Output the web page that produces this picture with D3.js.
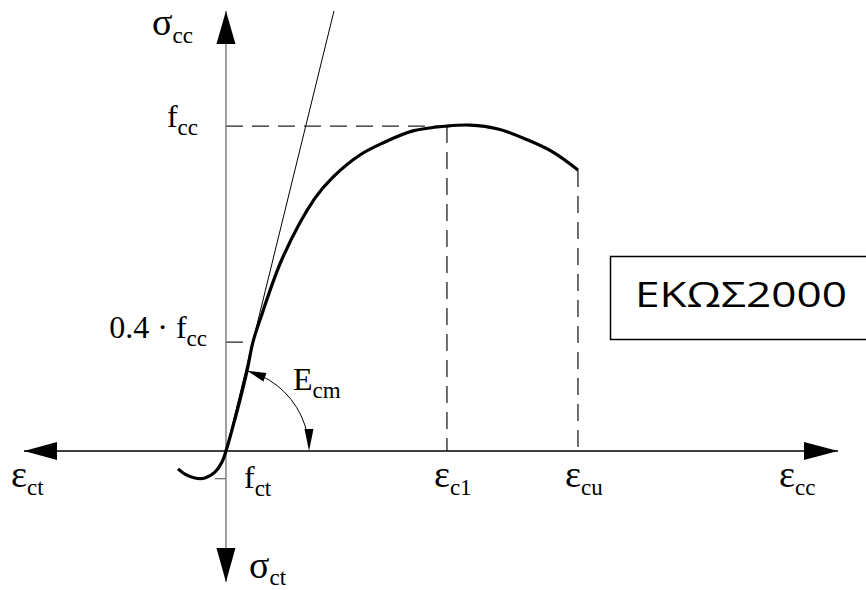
<!DOCTYPE html>
<html>
<head>
<meta charset="utf-8">
<script src="https://cdn.jsdelivr.net/npm/d3@7"></script>
<style>
  body { margin: 0; background: #fff; }
  svg { display: block; }
  .lbl { font-family: "Liberation Serif", "Times New Roman", serif; fill: #000; }
</style>
</head>
<body>
<div id="chart"></div>
<script>
// strain (per mille) and stress (fraction of fcc)
var strain = [-0.436, -0.373, -0.282, -0.191, -0.100, -0.036, 0, 0.055, 0.127, 0.191, 0.245, 0.309, 0.518, 0.809, 0.973, 1.218, 1.427, 1.700, 2.009, 2.218, 2.473, 2.745, 2.973, 3.200];
var stress = [-0.055, -0.071, -0.083, -0.083, -0.065, -0.034, 0, 0.065, 0.157, 0.246, 0.335, 0.403, 0.597, 0.778, 0.843, 0.911, 0.948, 0.985, 1.000, 1.003, 0.991, 0.957, 0.920, 0.865];

var axisX = [-1.836, 5.564];      // horizontal axis extent
var axisY = [-0.403, 1.354];      // vertical axis extent
var tangentEnd = [0.982, 1.354];  // secant Ecm line end

var stressTicks = [1.0, 0.335, -0.085];
var stressLabels = [["f", "cc"], ["0.4 \u00b7 f", "cc"], ["f", "ct"]];
var strainTicks = [2.009, 3.200];
var strainLabels = [["\u03b5", "c1"], ["\u03b5", "cu"]];
var ecmEnd = 0.755;               // where the Ecm arc meets the axis
var ecmIndex = 9;                 // curve point where the arc starts
var boxText = "\u0395\u039a\u03a9\u03a32000";

var w_width = 866, w_height = 590;

var svg = d3.select("#chart").append("svg")
    .attr("width", w_width)
    .attr("height", w_height);

var x = d3.scaleLinear().domain(axisX).range([24, 838]),
    y = d3.scaleLinear().domain(axisY).range([582, 11]);

// dashed reference lines
var dash = svg.append("g")
    .attr("stroke", "#222")
    .attr("stroke-width", 1.3)
    .attr("stroke-dasharray", "17,9");

dash.append("line")
    .attr("x1", x(0)).attr("x2", x(strainTicks[0]))
    .attr("y1", y(stressTicks[0])).attr("y2", y(stressTicks[0]));
dash.append("line")
    .attr("x1", x(0)).attr("x2", x(0.245))
    .attr("y1", y(stressTicks[1])).attr("y2", y(stressTicks[1]));
dash.append("line")
    .attr("x1", x(strainTicks[0])).attr("x2", x(strainTicks[0]))
    .attr("y1", y(stressTicks[0])).attr("y2", y(0));
dash.append("line")
    .attr("x1", x(strainTicks[1])).attr("x2", x(strainTicks[1]))
    .attr("y1", y(stress[stress.length - 1])).attr("y2", y(0));

// fct tick
svg.append("line")
    .attr("x1", x(-0.1)).attr("x2", x(0))
    .attr("y1", y(stressTicks[2])).attr("y2", y(stressTicks[2]))
    .attr("stroke", "#777").attr("stroke-width", 1.3);

// axes
svg.append("line")
    .attr("x1", x(0)).attr("x2", x(0))
    .attr("y1", y(axisY[0])).attr("y2", y(axisY[1]))
    .attr("stroke", "#777").attr("stroke-width", 1.4);
svg.append("line")
    .attr("x1", x(axisX[0])).attr("x2", x(axisX[1]))
    .attr("y1", y(0)).attr("y2", y(0))
    .attr("stroke", "#000").attr("stroke-width", 1.4);

function arrowHead(tx, ty, dx, dy, len, half) {
  var bx = tx - dx * len, by = ty - dy * len;
  svg.append("path")
      .attr("d", "M" + tx + "," + ty +
        "L" + (bx - dy * half) + "," + (by + dx * half) +
        "L" + (bx + dy * half) + "," + (by - dx * half) + "Z")
      .attr("fill", "#000");
}
arrowHead(x(0), y(axisY[1]), 0, -1, 33, 9.5);
arrowHead(x(0), y(axisY[0]), 0, 1, 34, 9.5);
arrowHead(x(axisX[0]), y(0), -1, 0, 33, 9);
arrowHead(x(axisX[1]), y(0), 1, 0, 34, 9);

// secant line
svg.append("line")
    .attr("x1", x(0)).attr("y1", y(0))
    .attr("x2", x(tangentEnd[0])).attr("y2", y(tangentEnd[1]))
    .attr("stroke", "#000").attr("stroke-width", 1);

// stress-strain curve
var line = d3.line()
    .curve(d3.curveCatmullRom.alpha(0.5))
    .x(function(d, i) { return x(strain[i]); })
    .y(function(d, i) { return y(stress[i]); });

svg.append("path")
    .datum(strain)
    .attr("d", line)
    .attr("fill", "none")
    .attr("stroke", "#000")
    .attr("stroke-width", 3.2)
    .attr("stroke-linejoin", "round");

// Ecm arc
var cx = x(0), cy = y(0),
    r = x(ecmEnd) - x(0),
    px = x(strain[ecmIndex]), py = y(stress[ecmIndex]),
    a0 = Math.atan2(py - cy, px - cx);
var arc = d3.path();
arc.arc(cx, cy, r, a0 + 0.17, -0.2, false);
svg.append("path")
    .attr("d", arc.toString())
    .attr("fill", "none")
    .attr("stroke", "#000")
    .attr("stroke-width", 1);
arrowHead(cx + r * Math.cos(a0), cy + r * Math.sin(a0), Math.sin(a0 + 0.09), -Math.cos(a0 + 0.09), 19, 4.5);
arrowHead(x(ecmEnd), y(0), 0, 1, 22, 4.5);

// labels
function label(tx, ty, main, sub, anchor, greek, dy) {
  var t = svg.append("text")
      .attr("class", "lbl")
      .attr("x", tx).attr("y", ty)
      .attr("text-anchor", anchor || "start");
  t.append("tspan").attr("font-size", greek ? 38 : 32).text(main);
  t.append("tspan").attr("font-size", 23).attr("dy", dy || 8).text(sub);
  return t;
}

label(152, 35, "\u03c3", "cc", "start", true);
label(198, y(stressTicks[0]) + 1, stressLabels[0][0], stressLabels[0][1], "end");
label(207, y(stressTicks[1]) - 4, stressLabels[1][0], stressLabels[1][1], "end");
label(244, 488, stressLabels[2][0], stressLabels[2][1], "start");
label(249, 578, "\u03c3", "ct", "start", true, 7);
label(293, 390, "E", "cm", "start");

label(11, 487, "\u03b5", "ct", "start", true);
strainTicks.forEach(function(v, i) {
  label(x(v) - 13, 487, strainLabels[i][0], strainLabels[i][1], "start", true);
});
label(779, 487, "\u03b5", "cc", "start", true);

// boxed note
svg.append("rect")
    .attr("x", 610.5).attr("y", 256.5)
    .attr("width", 300).attr("height", 83)
    .attr("fill", "#fff")
    .attr("stroke", "#000")
    .attr("stroke-width", 1.5);
svg.append("text")
    .attr("x", 635).attr("y", 307)
    .attr("font-family", "'Open Sans', 'Noto Sans', sans-serif")
    .attr("font-size", 35)
    .attr("textLength", 212)
    .attr("lengthAdjust", "spacingAndGlyphs")
    .text(boxText);
</script>
</body>
</html>
